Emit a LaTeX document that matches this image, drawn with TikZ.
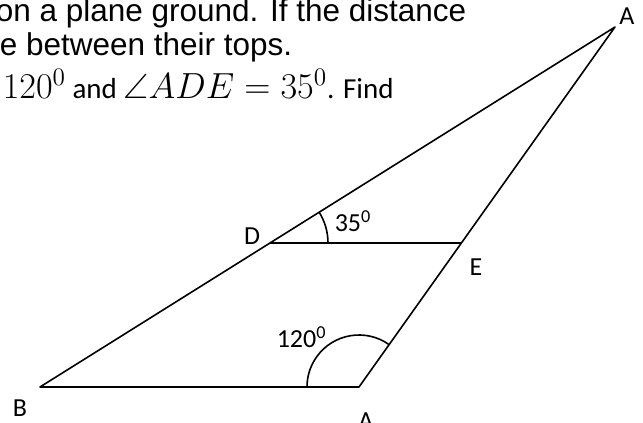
\documentclass[tikz,border=0pt]{standalone}
\usepackage{fontspec}
\newfontfamily\txtfont{Liberation Sans}
\newfontfamily\lblfont{Carlito}
\usepackage{amssymb}
\usepackage{amsmath}
\usetikzlibrary{calc}
\newcommand\mth[1]{\scalebox{1.75}{\fontsize{20}{24}\selectfont$#1$}}

\begin{document}
\begin{tikzpicture}[x=1pt,y=1pt,line width=1.6pt,line join=round,
  lbl/.style={font=\lblfont\fontsize{26}{30}\selectfont,inner sep=0pt},
  txt/.style={font=\txtfont\fontsize{31.5}{34}\selectfont,inner sep=0pt,anchor=base west}]
\useasboundingbox (0,0) rectangle (643,423);
\clip (0,0) rectangle (643,423);
\node[txt] (line1) at (-5,401) {on a plane ground. If the distance};
\node[txt] (line2) at (-1,367) {e between their tops.};
\node[txt,font=\lblfont\fontsize{29}{32}\selectfont] (line3) at (2,324) {\mth{120^0} and \mth{\angle ADE=35^0}. Find};
\coordinate (A) at (615,396);
\coordinate (B) at (40,36);
\coordinate (C) at (359,36);
\coordinate (D) at ($(B)!0.4!(A)$);
\coordinate (E) at ($(C)!0.4!(A)$);
\draw (B) -- (A) -- (C) -- cycle;
\draw (D) -- (E);
\draw ($(D)+(0:58)$) arc[start angle=0,end angle=32.05,radius=58];
\draw ($(C)+(54.6:52)$) arc[start angle=54.6,end angle=180,radius=52];
\node[lbl] (lA) at (627,407) {A};
\node[lbl] (lB) at (20,14.5) {B};
\node[lbl] (lC) at (366,2) {A};
\node[lbl] (lD) at (252,186.5) {D};
\node[lbl] (lE) at (476,156) {E};
\node[lbl,anchor=base west] (l35) at (334,191) {35\textsuperscript{0}};
\node[lbl,anchor=base west] (l120) at (276,75) {120\textsuperscript{0}};
\end{tikzpicture}
\end{document}
